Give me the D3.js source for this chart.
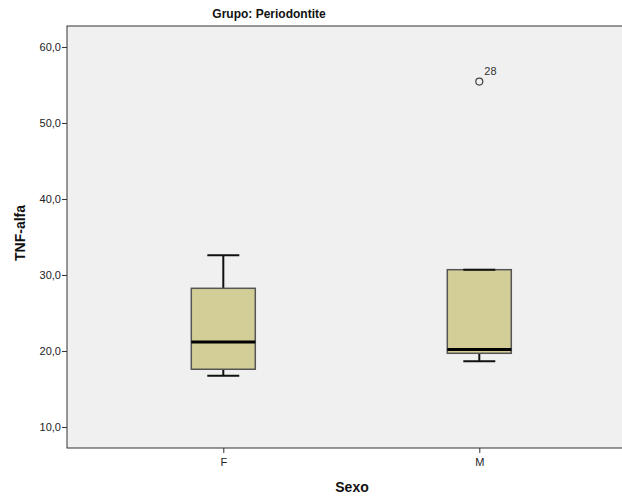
<!DOCTYPE html>
<html><head><meta charset="utf-8">
<script src="https://cdn.jsdelivr.net/npm/d3@7"></script>
<style>body{margin:0;background:#fff;}svg{display:block;font-family:"Liberation Sans",Arial,sans-serif;}</style>
</head><body>
<script>
const categories = ["F", "M"];
const whiskerLow = [16.75, 18.65];
const q1 = [17.6, 19.7];
const median = [21.2, 20.2];
const q3 = [28.25, 30.7];
const whiskerHigh = [32.6, 30.7];
const outlierValues = [[], [55.45]];
const outlierLabels = [[], ["28"]];
const yTicks = [10, 20, 30, 40, 50, 60];

const W = 622, H = 500;
const plot = {left: 67, top: 26, right: 635, bottom: 448};
const svg = d3.select("body").append("svg").attr("width", W).attr("height", H);

const y = d3.scaleLinear().domain([7.24, 62.76]).range([plot.bottom, plot.top]);
const x = d3.scalePoint().domain(categories).range([223.3, 479.3]);
const boxW = 64;

svg.append("rect").attr("x", plot.left).attr("y", plot.top)
  .attr("width", plot.right - plot.left).attr("height", plot.bottom - plot.top)
  .attr("fill", "#f0f0f0").attr("stroke", "#333").attr("stroke-width", 1);

// axes
const yAxis = d3.axisLeft(y).tickValues(yTicks).tickSize(5).tickFormat(d => d3.format(".1f")(d).replace(".", ","));
const gy = svg.append("g").attr("transform", `translate(${plot.left},0)`).call(yAxis);
gy.select(".domain").remove();
gy.selectAll("line").attr("stroke", "#333");
gy.selectAll("text").attr("font-size", 11).attr("fill", "#222").attr("x", -6);

const xAxis = d3.axisBottom(x).tickSize(5);
const gx = svg.append("g").attr("transform", `translate(0,${plot.bottom})`).call(xAxis);
gx.select(".domain").remove();
gx.selectAll("line").attr("stroke", "#333");
gx.selectAll("text").attr("font-size", 11).attr("fill", "#222").attr("dy", "0.9em");

// boxes
categories.forEach((c, i) => {
  const cx = x(c);
  const g = svg.append("g");
  g.append("line").attr("x1", cx).attr("x2", cx).attr("y1", y(whiskerHigh[i])).attr("y2", y(q3[i])).attr("stroke", "#111").attr("stroke-width", 2);
  g.append("line").attr("x1", cx).attr("x2", cx).attr("y1", y(whiskerLow[i])).attr("y2", y(q1[i])).attr("stroke", "#111").attr("stroke-width", 2);
  g.append("rect").attr("x", cx - boxW / 2).attr("y", y(q3[i])).attr("width", boxW)
    .attr("height", y(q1[i]) - y(q3[i])).attr("fill", "#d3ce97").attr("stroke", "#555").attr("stroke-width", 1.5);
  [whiskerHigh[i], whiskerLow[i]].forEach(v => {
    g.append("line").attr("x1", cx - 16).attr("x2", cx + 16).attr("y1", y(v)).attr("y2", y(v)).attr("stroke", "#111").attr("stroke-width", 2);
  });
  g.append("line").attr("x1", cx - boxW / 2).attr("x2", cx + boxW / 2).attr("y1", y(median[i])).attr("y2", y(median[i])).attr("stroke", "#000").attr("stroke-width", 3);
  outlierValues[i].forEach((v, j) => {
    g.append("circle").attr("cx", cx).attr("cy", y(v)).attr("r", 3.5).attr("fill", "none").attr("stroke", "#444").attr("stroke-width", 1.2);
    g.append("text").attr("x", cx + 5).attr("y", y(v) - 7).attr("font-size", 11).attr("fill", "#333").text(outlierLabels[i][j]);
  });
});

svg.append("text").attr("x", 269).attr("y", 18).attr("text-anchor", "middle")
  .attr("font-family", "'Liberation Sans Narrow','Liberation Sans',Arial,sans-serif")
  .attr("font-weight", "bold").attr("font-size", 12).attr("fill", "#111").text("Grupo: Periodontite");
svg.append("text").attr("x", 352).attr("y", 492).attr("text-anchor", "middle")
  .attr("font-weight", "bold").attr("font-size", 14).attr("fill", "#111").text("Sexo");
svg.append("text").attr("transform", "translate(25,233) rotate(-90)").attr("text-anchor", "middle")
  .attr("font-weight", "bold").attr("font-size", 14).attr("fill", "#111").text("TNF-alfa");
</script>
</body></html>
